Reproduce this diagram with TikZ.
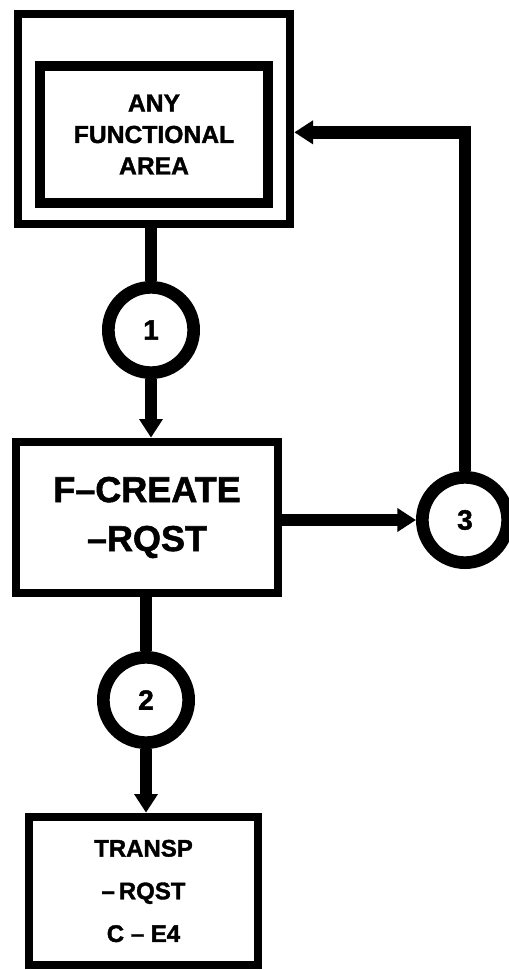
\documentclass[tikz,border=0pt]{standalone}
\usepackage{fontspec}
\setmainfont{Liberation Sans}[BoldFeatures={FakeBold=1.5}]
\usetikzlibrary{arrows.meta}

\begin{document}
\begin{tikzpicture}[x=0.75pt, y=-0.75pt,
    box/.style={draw, line width=6.5pt, inner sep=0pt, align=center, font=\bfseries},
    bubble/.style={draw, circle, line width=9.5pt, minimum size=64pt, inner sep=0pt,
        font=\bfseries\fontsize{21}{22}\selectfont},
    link/.style={line width=9.5pt},
    flow/.style={link, -{Triangle[length=14pt, width=17pt]}}]
    % page frame
    \useasboundingbox (0,0) rectangle (509,970);

    % Functional area (double frame)
    \node[box, minimum width=204pt, minimum height=157.5pt] (outer) at (154,119) {};
    \node[box, line width=8pt, minimum width=171pt, minimum height=102.75pt,
        font=\bfseries\fontsize{18.5}{23.6}\selectfont] (area) at (154,134.5) {ANY\\FUNCTIONAL\\AREA};

    % Processes
    \node[box, minimum width=196.5pt, minimum height=113.25pt,
        font=\bfseries\fontsize{27}{36.75}\selectfont] (create) at (147,517.5) {F--CREATE\\--RQST};
    \node[box, minimum width=171.75pt, minimum height=111pt,
        font=\bfseries\fontsize{18}{32}\selectfont] (transp) at (143.5,891) {TRANSP\\--\,RQST\\C -- E4};

    % Numbered flows
    \node[bubble] (c1) at (151,330) {1};
    \node[bubble] (c2) at (146,700) {2};
    \node[bubble] (c3) at (465,520) {3};

    % Connections
    \draw[link] (c1 |- outer.south) -- (c1);
    \draw[flow] (c1) -- (c1 |- create.north);
    \draw[link] (c2 |- create.south) -- (c2);
    \draw[flow] (c2) -- (c2 |- transp.north);
    \draw[flow] (create.east |- c3) -- (c3);
    \draw[flow] (c3) |- ([yshift=-10pt]outer.east); % back to the functional area

\end{tikzpicture}
\end{document}
